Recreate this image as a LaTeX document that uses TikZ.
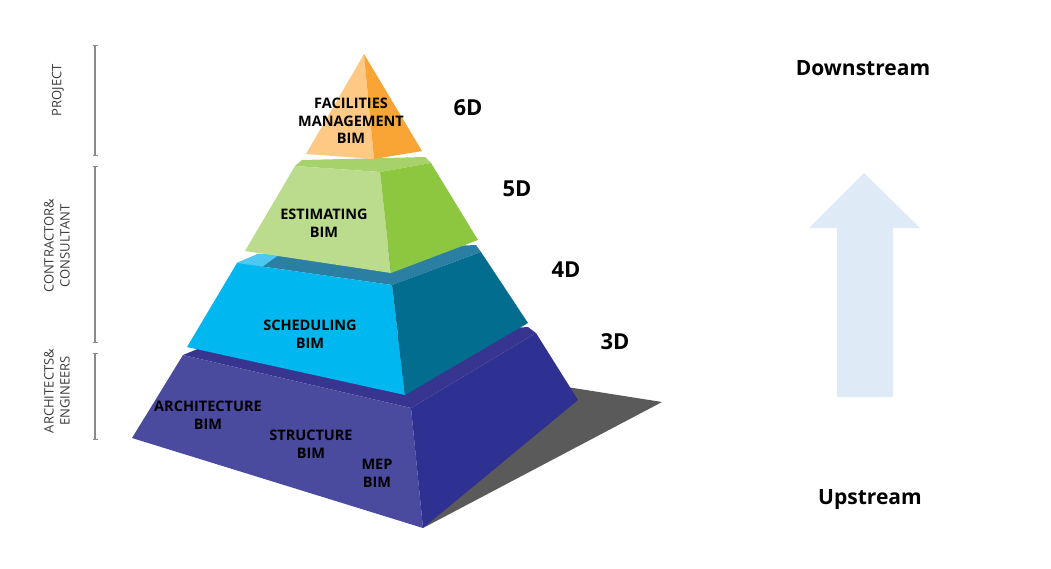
\documentclass[tikz,border=0pt]{standalone}
\usepackage{fontspec}
\setmainfont{Open Sans}
\usetikzlibrary{arrows.meta}
\definecolor{shadowc}{HTML}{5A5A5A}
\definecolor{purtop}{HTML}{37358F}
\definecolor{purfront}{HTML}{4A4A9E}
\definecolor{purright}{HTML}{2E3192}
\definecolor{bluetop}{HTML}{2B7FA2}
\definecolor{bluelight}{HTML}{4CC8F2}
\definecolor{bluefront}{HTML}{00B7EF}
\definecolor{blueright}{HTML}{026D8E}
\definecolor{greentop}{HTML}{A6D26C}
\definecolor{greenleft}{HTML}{BBDC8D}
\definecolor{greenright}{HTML}{8DC63F}
\definecolor{orleft}{HTML}{FDC985}
\definecolor{orright}{HTML}{F8A536}
\definecolor{arrowc}{HTML}{DEEAF6}
\definecolor{barc}{HTML}{8A8A8A}
\definecolor{sidec}{HTML}{3A3A3A}
\begin{document}
\begin{tikzpicture}[x=1pt,y=-1pt,
  lbl/.style={font=\fontsize{14.5}{18}\selectfont\bfseries, align=center, inner sep=0pt},
  dimlbl/.style={font=\fontsize{22}{26}\selectfont\bfseries, inner sep=0pt},
  flowlbl/.style={font=\fontsize{21}{25}\selectfont\bfseries, inner sep=0pt},
  sidelbl/.style={font=\fontsize{13}{16}\selectfont, text=sidec, align=center, inner sep=0pt, rotate=90},
  sidebar/.style={draw=barc, line width=1.3pt, {Bar[width=5pt]}-{Bar[width=5pt]}}]
\useasboundingbox (0,0) rectangle (1051,568);
% shadow
\fill[shadowc] (567,387) -- (662,402) -- (423,528) -- cycle;
% base tier (3D)
\fill[purtop] (183,355) -- (200,348) -- (528,327) -- (536,333) -- (411,408) -- cycle;
\fill[purfront] (183,355) -- (411,408) -- (423,528) -- (132,438) -- cycle;
\fill[purright] (411,408) -- (536,333) -- (578,400) -- (423,528) -- cycle;
% scheduling tier (4D)
\fill[bluetop] (237,263) -- (258,254) -- (476,245) -- (481,252) -- (392,285) -- cycle;
\fill[bluelight] (237,263) -- (258,254) -- (280,254) -- (262,267) -- cycle;
\fill[bluefront] (237,263) -- (392,285) -- (405,395) -- (187,347) -- cycle;
\fill[blueright] (392,285) -- (481,252) -- (528,323) -- (405,395) -- cycle;
% estimating tier (5D)
\fill[greentop] (295,166) -- (302,160) -- (425,157) -- (431,163) -- (380,172) -- cycle;
\fill[greenleft] (295,166) -- (380,172) -- (391,273) -- (245,251) -- cycle;
\fill[greenright] (380,172) -- (431,163) -- (478,240) -- (391,273) -- cycle;
% facilities tier (6D)
\fill[orleft] (364,54) -- (374,159) -- (306,154) -- cycle;
\fill[orright] (364,54) -- (422,151) -- (374,159) -- cycle;
% arrow
\fill[arrowc] (864,173) -- (920,228) -- (893,228) -- (893,397) -- (837,397) -- (837,228) -- (809,228) -- cycle;
% side bars
\coordinate (b1t) at (95,45);
\coordinate (b1b) at (95,156);
\coordinate (b2t) at (95,166);
\coordinate (b2b) at (95,343);
\coordinate (b3t) at (95,353);
\coordinate (b3b) at (95,440);
\draw[sidebar] (b1t) -- (b1b);
\draw[sidebar] (b2t) -- (b2b);
\draw[sidebar] (b3t) -- (b3b);
% side labels
\node[sidelbl] (proj) at (58,90) {PROJECT};
\node[sidelbl] (cons) at (57,246) {CONTRACTOR\&\\CONSULTANT};
\node[sidelbl] (arch) at (57,391) {ARCHITECTS\&\\ENGINEERS};
% tier labels
\node[lbl, font=\fontsize{14.5}{17.5}\selectfont\bfseries] (fm) at (351,121) {FACILITIES\\MANAGEMENT\\BIM};
\node[lbl] (est) at (324,223) {ESTIMATING\\BIM};
\node[lbl] (sch) at (310,334) {SCHEDULING\\BIM};
\node[lbl] (archbim) at (208,415) {ARCHITECTURE\\BIM};
\node[lbl] (strbim) at (311,444) {STRUCTURE\\BIM};
\node[lbl] (mepbim) at (377,473) {MEP\\BIM};
% dimension labels
\node[dimlbl] (d6) at (468,108) {6D};
\node[dimlbl] (d5) at (517,189) {5D};
\node[dimlbl] (d4) at (566,270) {4D};
\node[dimlbl] (d3) at (615,342) {3D};
% flow labels
\node[flowlbl] (down) at (863,68) {Downstream};
\node[flowlbl] (up) at (870,500) {Upstream};
\end{tikzpicture}
\end{document}
